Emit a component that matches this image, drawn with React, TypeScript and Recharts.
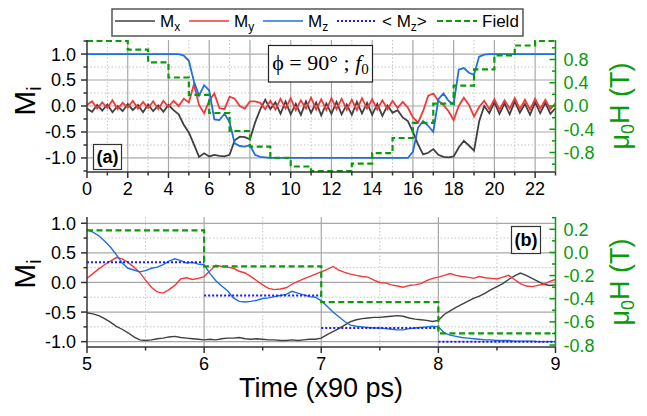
import { CartesianGrid, ComposedChart, Line, XAxis, YAxis } from "recharts"

// ---- panel (a): whole run, one sample every 0.25 (x90 ps) ----
const stepA = 0.25
const mxA = [
  -0.05, -0.11, 0.02, -0.09, 0.03, -0.12, 0.0, -0.1, 0.04, -0.08, 0.02, -0.12, 0.03, -0.1, 0.01, -0.11,
  0.02, -0.08, -0.16, -0.36, -0.51, -0.74, -0.98, -0.91, -0.97, -0.94, -0.96, -0.97, -0.94, -0.66, -0.59, -0.6,
  -0.64, -0.32, -0.07, 0.12, -0.06, 0.07, -0.15, 0.09, -0.16, 0.04, -0.17, 0.09, -0.13, 0.07, -0.18, 0.05,
  -0.15, 0.08, -0.16, 0.03, -0.17, 0.08, -0.14, 0.06, -0.17, 0.04, -0.19, 0.01, -0.13, -0.08, -0.22, -0.29,
  -0.5, -0.74, -0.93, -0.9, -0.83, -0.94, -0.98, -0.99, -0.97, -0.8, -0.67, -0.76, -0.86, -0.3, 0.0, -0.14,
  0.07, -0.15, 0.05, -0.16, 0.09, -0.13, 0.04, -0.17, 0.07, -0.14, 0.06, -0.15, -0.04,
]
const myA = [
  0.02, 0.09, -0.05, 0.07, -0.04, 0.11, -0.06, 0.06, -0.03, 0.1, -0.05, 0.08, -0.04, 0.09, -0.06, 0.1,
  -0.02, 0.1, 0.0, 0.14, 0.07, 0.42, 0.02, -0.14, 0.1, 0.24, -0.04, -0.06, 0.18, 0.14, 0.0, -0.05,
  0.09, 0.09, 0.06, -0.06, 0.1, -0.07, 0.14, -0.05, 0.15, -0.08, 0.11, -0.05, 0.16, -0.07, 0.13, -0.08,
  0.15, -0.06, 0.14, -0.07, 0.12, -0.08, 0.15, -0.05, 0.13, -0.07, 0.11, -0.06, 0.1, -0.04, 0.08, -0.03,
  -0.22, -0.32, -0.1, 0.2, 0.24, 0.1, 0.02, -0.1, -0.27, 0.0, 0.16, 0.02, -0.2, -0.02, 0.1, -0.06,
  0.13, -0.07, 0.11, -0.05, 0.15, -0.06, 0.12, -0.07, 0.14, -0.05, 0.12, -0.06, 0.05,
]
const mzA = [
  1, 1, 1, 1, 1, 1, 1, 1, 1, 1, 1, 1, 1, 1, 1, 1,
  1, 1, 1, 0.97, 0.87, 0.47, 0.2, 0.4, 0.3, -0.26, -0.27, -0.15, -0.31, -0.72, -0.77, -0.78,
  -0.75, -0.94, -0.98, -0.99, -1, -1, -1, -1, -1, -1, -1, -1, -1, -1, -1, -1,
  -1, -1, -1, -1, -1, -1, -1, -1, -1, -1, -1, -1, -1, -1, -1, -1,
  -0.88, -0.42, -0.29, -0.38, -0.5, 0.13, 0.24, 0.1, 0.03, 0.7, 0.73, 0.64, 0.6, 0.95, 0.99, 1,
  1, 1, 1, 1, 1, 1, 1, 1, 1, 1, 1, 1, 1,
]
const fieldTimesA = [0, 1, 2, 3, 4, 5, 6, 7, 8, 9, 10, 11, 12, 13, 14, 15, 16, 17, 18, 19, 20, 21, 22, 23]
const fieldA = [
  1.12, 1.12, 0.97, 0.75, 0.49, 0.19, -0.12, -0.43, -0.7, -0.89, -1.04, -1.12,
  -1.12, -0.99, -0.81, -0.55, -0.29, 0.04, 0.35, 0.63, 0.87, 1.04, 1.12, 1.12,
]

// ---- panel (b): zoom on 5..9, one sample every 0.05 ----
const startB = 5
const stepB = 0.05
const mxB = [
  -0.51, -0.53, -0.56, -0.61, -0.67, -0.74, -0.79, -0.85, -0.92, -0.97, -0.98, -0.97, -0.95, -0.94, -0.92, -0.91, -0.93, -0.94, -0.95, -0.96,
  -0.97, -0.96, -0.97, -0.95, -0.94, -0.94, -0.93, -0.95, -0.96, -0.95, -0.96, -0.97, -0.97, -0.98, -0.98, -0.97, -0.98, -0.97, -0.96, -0.96,
  -0.94, -0.88, -0.83, -0.78, -0.72, -0.66, -0.63, -0.61, -0.6, -0.59, -0.59, -0.58, -0.57, -0.56, -0.57, -0.6, -0.62, -0.63, -0.64, -0.66,
  -0.64, -0.54, -0.48, -0.42, -0.37, -0.32, -0.27, -0.23, -0.18, -0.12, -0.07, -0.02, 0.05, 0.11, 0.16, 0.12, 0.07, 0.02, -0.03, -0.05,
  -0.04,
]
const myB = [
  0.07, 0.15, 0.23, 0.3, 0.36, 0.42, 0.4, 0.34, 0.26, 0.17, 0.04, -0.08, -0.16, -0.18, -0.12, -0.05, 0.06, 0.08, 0.05, 0.07,
  0.1, 0.2, 0.29, 0.27, 0.26, 0.24, 0.19, 0.16, 0.1, 0.03, -0.04, -0.1, -0.12, -0.11, -0.09, -0.03, 0.02, 0.06, 0.1, 0.14,
  0.18, 0.22, 0.27, 0.21, 0.17, 0.14, 0.12, 0.1, 0.09, 0.04, 0.0, -0.01, -0.04, -0.06, -0.08, -0.05, -0.04, -0.02, 0.03, 0.07,
  0.09, 0.12, 0.15, 0.12, 0.1, 0.09, 0.07, 0.1, 0.08, 0.07, 0.06, 0.09, 0.12, 0.05, -0.02, -0.06, -0.07, -0.05, -0.03, 0.02,
  0.05,
]
const mzB = [
  0.89, 0.85, 0.79, 0.7, 0.6, 0.47, 0.33, 0.24, 0.21, 0.18, 0.2, 0.24, 0.26, 0.3, 0.36, 0.4, 0.37, 0.33, 0.34, 0.31,
  0.3, 0.15, 0.03, -0.06, -0.14, -0.26, -0.32, -0.33, -0.32, -0.3, -0.27, -0.26, -0.24, -0.22, -0.2, -0.15, -0.18, -0.21, -0.24, -0.25,
  -0.31, -0.4, -0.5, -0.58, -0.66, -0.72, -0.74, -0.75, -0.76, -0.77, -0.77, -0.78, -0.79, -0.8, -0.8, -0.78, -0.77, -0.76, -0.75, -0.74,
  -0.75, -0.85, -0.89, -0.91, -0.93, -0.94, -0.95, -0.96, -0.97, -0.97, -0.98, -0.98, -0.98, -0.99, -0.99, -0.99, -0.99, -1, -1, -1,
  -1,
]
const fieldTimesB = [5, 6, 7, 8, 9]
const fieldB = [0.19, -0.12, -0.43, -0.7, -0.7]
const avgStartB = [5, 6, 7, 8]
const avgMzB = [0.34, -0.22, -0.77, -1.0]

// ---- ticks ----
const xTicksA = [0, 1, 2, 3, 4, 5, 6, 7, 8, 9, 10, 11, 12, 13, 14, 15, 16, 17, 18, 19, 20, 21, 22, 23]
const xLabelsA = [0, 2, 4, 6, 8, 10, 12, 14, 16, 18, 20, 22]
const xTicksB = [5, 5.5, 6, 6.5, 7, 7.5, 8, 8.5, 9]
const xLabelsB = [5, 6, 7, 8, 9]
const mTicksA = [-1.25, -1, -0.75, -0.5, -0.25, 0, 0.25, 0.5, 0.75, 1, 1.25]
const mTicksB = [-1, -0.75, -0.5, -0.25, 0, 0.25, 0.5, 0.75, 1]
const mLabels = [-1, -0.5, 0, 0.5, 1]
const hTicksA = [-1, -0.8, -0.6, -0.4, -0.2, 0, 0.2, 0.4, 0.6, 0.8, 1]
const hLabelsA = [-0.8, -0.4, 0, 0.4, 0.8]
const hTicksB = [-0.8, -0.7, -0.6, -0.5, -0.4, -0.3, -0.2, -0.1, 0, 0.1, 0.2, 0.3]
const hLabelsB = [-0.8, -0.6, -0.4, -0.2, 0, 0.2]

const rowsA = mxA.map((v, i) => ({ t: i * stepA, mx: v, my: myA[i], mz: mzA[i] }))
const fieldRowsA = fieldTimesA.map((t, i) => ({ t, h: fieldA[i] }))
const rowsB = mxB.map((v, i) => ({ t: +(startB + i * stepB).toFixed(2), mx: v, my: myB[i], mz: mzB[i] }))
const fieldRowsB = fieldTimesB.map((t, i) => ({ t, h: fieldB[i] }))
const avgRowsB = avgStartB.flatMap((t, i) => [
  { t, avg: avgMzB[i] },
  { t: t + 1, avg: avgMzB[i] },
  { t: t + 1, avg: null },
])

const BLACK = "#404040"
const RED = "#f03a3a"
const BLUE = "#1f6fdc"
const AVG = "#1a1aff"
const GREEN = "#0a9a0a"
const AXIS = "#333"
const FONT = '"Liberation Sans", Arial, sans-serif'

const near = (list: number[], v: number) => list.some((m) => Math.abs(m - v) < 1e-6)

const bottomTick = (labels: number[]) => (p: any) => {
  const v = p.payload.value
  const major = near(labels, v)
  return (
    <g>
      <line x1={p.x} x2={p.x} y1={p.y} y2={p.y + (major ? 6 : 3.5)} stroke={AXIS} strokeWidth={1.5} />
      {major && (
        <text x={p.x} y={p.y + 23} textAnchor="middle" fontSize={18} fontFamily={FONT} fill="#000">
          {v}
        </text>
      )}
    </g>
  )
}

const leftTick = (labels: number[]) => (p: any) => {
  const v = p.payload.value
  const major = near(labels, v)
  return (
    <g>
      <line x1={p.x - (major ? 6 : 3.5)} x2={p.x} y1={p.y} y2={p.y} stroke={AXIS} strokeWidth={1.5} />
      {major && (
        <text x={p.x - 11} y={p.y} dy="0.36em" textAnchor="end" fontSize={18} fontFamily={FONT} fill="#000">
          {v.toFixed(1)}
        </text>
      )}
    </g>
  )
}

const rightTick = (labels: number[]) => (p: any) => {
  const v = p.payload.value
  const major = near(labels, v)
  return (
    <g>
      <line x1={p.x - (major ? 6 : 3.5)} x2={p.x} y1={p.y} y2={p.y} stroke={GREEN} strokeWidth={1.5} />
      {major && (
        <text x={p.x + 8} y={p.y} dy="0.36em" textAnchor="start" fontSize={18} fontFamily={FONT} fill={GREEN}>
          {v.toFixed(1)}
        </text>
      )}
    </g>
  )
}

type PanelProps = {
  rows: any[]
  fieldRows: any[]
  avgRows?: any[]
  xDomain: [number, number]
  xTicks: number[]
  xLabels: number[]
  xMajor: number[]
  xMinor: number[]
  mDomain: [number, number]
  mTicks: number[]
  hDomain: [number, number]
  hTicks: number[]
  hLabels: number[]
  top: number
  height: number
  marginTop: number
  xAxisHeight: number
  lineWidth: number
}

function Panel(props: PanelProps) {
  return (
    <div style={{ position: "absolute", left: 0, top: props.top }}>
      <ComposedChart
        width={647}
        height={props.height}
        data={props.rows}
        margin={{ top: props.marginTop, right: 0, bottom: 0, left: 0 }}
      >
        <CartesianGrid
          yAxisId="left"
          horizontalValues={[-1, -0.5, 0, 0.5, 1]}
          verticalValues={props.xMajor}
          stroke="#a8a8a8"
          strokeWidth={1.2}
        />
        <CartesianGrid
          yAxisId="left"
          horizontalValues={[-0.75, -0.25, 0.25, 0.75]}
          verticalValues={props.xMinor}
          stroke="#c4c4c4"
          strokeDasharray="1.5 2"
          strokeWidth={1}
        />
        <XAxis
          dataKey="t"
          type="number"
          domain={props.xDomain}
          allowDataOverflow
          ticks={props.xTicks}
          interval={0}
          height={props.xAxisHeight}
          tickSize={0}
          tickMargin={0}
          tickLine={false}
          tick={bottomTick(props.xLabels)}
          axisLine={{ stroke: AXIS, strokeWidth: 1.5 }}
        />
        <XAxis
          xAxisId="top"
          orientation="top"
          dataKey="t"
          type="number"
          domain={props.xDomain}
          allowDataOverflow
          height={0}
          tick={false}
          tickLine={false}
          axisLine={{ stroke: "#8a8a8a", strokeWidth: 1.5 }}
        />
        <YAxis
          yAxisId="left"
          type="number"
          domain={props.mDomain}
          allowDataOverflow
          ticks={props.mTicks}
          interval={0}
          width={87}
          tickSize={0}
          tickMargin={0}
          tickLine={false}
          tick={leftTick(mLabels)}
          axisLine={{ stroke: AXIS, strokeWidth: 1.5 }}
        />
        <YAxis
          yAxisId="right"
          orientation="right"
          type="number"
          domain={props.hDomain}
          allowDataOverflow
          ticks={props.hTicks}
          interval={0}
          width={91.5}
          tickSize={0}
          tickMargin={0}
          tickLine={false}
          tick={rightTick(props.hLabels)}
          axisLine={{ stroke: GREEN, strokeWidth: 1.5 }}
        />
        <Line yAxisId="left" dataKey="mx" stroke={BLACK} strokeWidth={props.lineWidth} dot={false} activeDot={false} isAnimationActive={false} />
        <Line yAxisId="left" dataKey="my" stroke={RED} strokeWidth={props.lineWidth} dot={false} activeDot={false} isAnimationActive={false} />
        <Line yAxisId="left" dataKey="mz" stroke={BLUE} strokeWidth={props.lineWidth} dot={false} activeDot={false} isAnimationActive={false} />
        {props.avgRows && (
          <Line
            yAxisId="left"
            data={props.avgRows}
            dataKey="avg"
            stroke={AVG}
            strokeWidth={2}
            strokeDasharray="2 2"
            connectNulls={false}
            dot={false}
            activeDot={false}
            isAnimationActive={false}
          />
        )}
        <Line
          yAxisId="right"
          data={props.fieldRows}
          dataKey="h"
          type="stepAfter"
          stroke={GREEN}
          strokeWidth={2.2}
          strokeDasharray="6 3.5"
          dot={false}
          activeDot={false}
          isAnimationActive={false}
        />
      </ComposedChart>
    </div>
  )
}

const legendItems = [
  { label: "M", sub: "x", tail: "", color: BLACK, dash: undefined, w: 1.5, x1: 115, x2: 155, tx: 160 },
  { label: "M", sub: "y", tail: "", color: RED, dash: undefined, w: 1.5, x1: 189, x2: 229, tx: 234 },
  { label: "M", sub: "z", tail: "", color: BLUE, dash: undefined, w: 1.5, x1: 263, x2: 303, tx: 308 },
  { label: "< M", sub: "z", tail: ">", color: AVG, dash: "2 2", w: 2, x1: 337, x2: 375, tx: 382 },
  { label: "Field", sub: "", tail: "", color: GREEN, dash: "6 3", w: 2.2, x1: 437, x2: 477, tx: 482 },
]

function Overlay() {
  return (
    <svg width={647} height={416} style={{ position: "absolute", left: 0, top: 0, pointerEvents: "none" }} fontFamily={FONT}>
      <rect x={112} y={9} width={411} height={27} fill="#fff" stroke="#555" strokeWidth={1.5} />
      {legendItems.map((it) => (
        <g key={it.tx}>
          <line x1={it.x1} x2={it.x2} y1={21} y2={21} stroke={it.color} strokeWidth={it.w} strokeDasharray={it.dash} />
          <text x={it.tx} y={27} fontSize={17} fill="#000">
            {it.label}
            {it.sub && (
              <tspan fontSize={12} dy={4}>
                {it.sub}
              </tspan>
            )}
            {it.tail && (
              <tspan fontSize={17} dy={-4}>
                {it.tail}
              </tspan>
            )}
          </text>
        </g>
      ))}

      <rect x={268.5} y={45.5} width={104} height={36.5} fill="#fff" stroke="#222" strokeWidth={1.2} />
      <text x={320.5} y={70} textAnchor="middle" fontSize={22} fontFamily='"Liberation Serif", "Times New Roman", serif' fill="#000">
        {"ϕ = 90° ; "}
        <tspan fontStyle="italic">f</tspan>
        <tspan fontSize={15} dy={4}>
          0
        </tspan>
      </text>

      <rect x={93.5} y={144.5} width={28} height={25} fill="#fff" stroke="#333" strokeWidth={1.2} />
      <text x={107.5} y={163} textAnchor="middle" fontSize={18} fontWeight="bold" fill="#000">
        (a)
      </text>
      <rect x={511.5} y={226.5} width={29} height={27} fill="#fff" stroke="#333" strokeWidth={1.2} />
      <text x={526} y={246} textAnchor="middle" fontSize={18} fontWeight="bold" fill="#000">
        (b)
      </text>

      {[101, 274].map((cy) => (
        <text key={"m" + cy} transform={`translate(35,${cy}) rotate(-90)`} textAnchor="middle" fontSize={30} fill="#000">
          M
          <tspan fontSize={20} dy={6}>
            i
          </tspan>
        </text>
      ))}
      {[106, 282].map((cy) => (
        <text key={"h" + cy} transform={`translate(629,${cy}) rotate(-90)`} textAnchor="middle" fontSize={27} fill={GREEN}>
          μ
          <tspan fontSize={18} dy={5}>
            0
          </tspan>
          <tspan dy={-5}>H (T)</tspan>
        </text>
      ))}

      <text x={321} y={397} textAnchor="middle" fontSize={27} fill="#000">
        Time (x90 ps)
      </text>
    </svg>
  )
}

export default function App() {
  return (
    <div style={{ position: "absolute", left: 0, top: 0, width: 647, height: 416, background: "#fff", fontFamily: FONT }}>
      <Panel
        rows={rowsA}
        fieldRows={fieldRowsA}
        xDomain={[0, 23]}
        xTicks={xTicksA}
        xLabels={xLabelsA}
        xMajor={[2, 4, 6, 8, 10, 12, 14, 16, 18, 20, 22]}
        xMinor={[1, 3, 5, 7, 9, 11, 13, 15, 17, 19, 21]}
        mDomain={[-1.27, 1.27]}
        mTicks={mTicksA}
        hDomain={[-1.135, 1.135]}
        hTicks={hTicksA}
        hLabels={hLabelsA}
        top={0}
        height={200}
        marginTop={40}
        xAxisHeight={28}
        lineWidth={1.8}
      />
      <Panel
        rows={rowsB}
        fieldRows={fieldRowsB}
        avgRows={avgRowsB}
        xDomain={[5, 9]}
        xTicks={xTicksB}
        xLabels={xLabelsB}
        xMajor={[6, 7, 8]}
        xMinor={[5.5, 6.5, 7.5, 8.5]}
        mDomain={[-1.09, 1.106]}
        mTicks={mTicksB}
        hDomain={[-0.817, 0.306]}
        hTicks={hTicksB}
        hLabels={hLabelsB}
        top={190}
        height={226}
        marginTop={27}
        xAxisHeight={69}
        lineWidth={1.4}
      />
      <Overlay />
    </div>
  )
}
